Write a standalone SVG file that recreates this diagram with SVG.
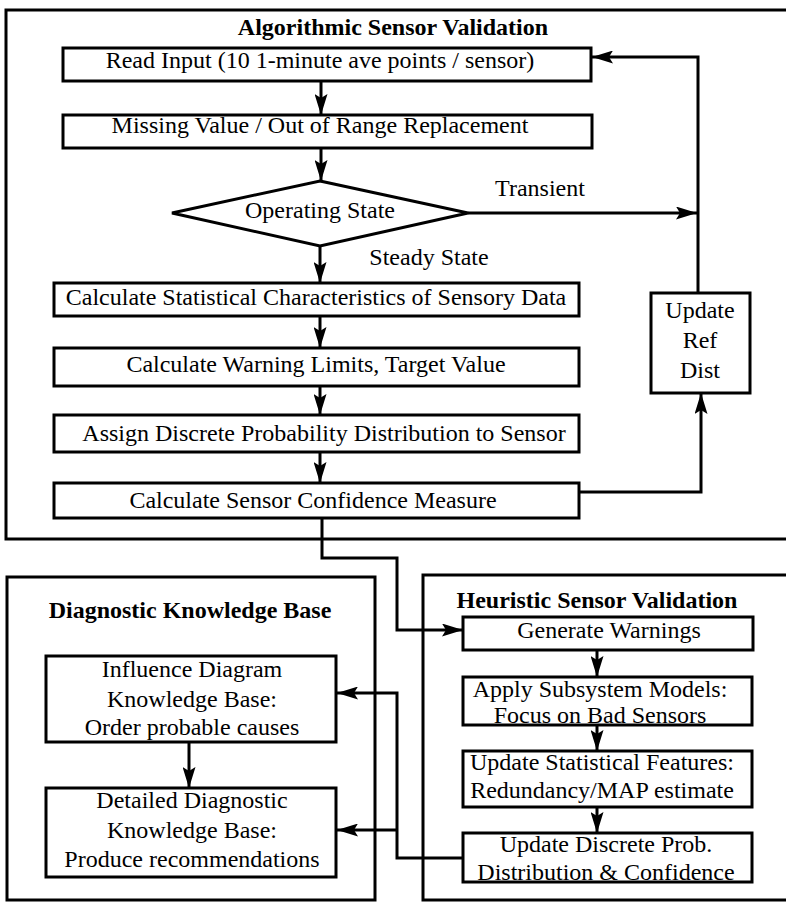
<svg xmlns="http://www.w3.org/2000/svg" width="786" height="903" viewBox="0 0 786 903">
<defs>
<marker id="ah" viewBox="0 0 21 13" refX="21" refY="6.5" markerWidth="21" markerHeight="13" markerUnits="userSpaceOnUse" orient="auto">
<path d="M0,0 L21,6.5 L0,13 L4,6.5 z" fill="#000"/>
</marker>
<style>
.box{fill:#fff;stroke:#000;stroke-width:3}
.cont{fill:none;stroke:#000;stroke-width:3}
.t{font-family:"Liberation Serif","Times New Roman",serif;font-size:24px;fill:#000;text-anchor:middle}
.b{font-weight:bold}
.ln{fill:none;stroke:#000;stroke-width:3}
.ar{marker-end:url(#ah)}
</style>
</defs>
<rect width="786" height="903" fill="#fff"/>

<g id="algorithmic-container">
<rect class="cont" x="6" y="10" width="800" height="529"/>
<text class="t b" x="393" y="35">Algorithmic Sensor Validation</text>
</g>
<g id="diagnostic-container">
<rect class="cont" x="7" y="577" width="368" height="323"/>
<text class="t b" x="190" y="618">Diagnostic Knowledge Base</text>
</g>
<g id="heuristic-container">
<rect class="cont" x="423" y="575" width="400" height="325"/>
<text class="t b" x="597" y="608">Heuristic Sensor Validation</text>
</g>

<g id="connectors">
<path class="ln ar" d="M321,81 L321,115"/>
<path class="ln ar" d="M321,148 L321,181"/>
<path class="ln ar" d="M468,213 L697,213"/>
<path class="ln ar" d="M698,293 L698,57 L592,57"/>
<path class="ln ar" d="M579,492 L701,492 L701,393"/>
<path class="ln ar" d="M320,247 L320,283"/>
<path class="ln ar" d="M320,316 L320,348"/>
<path class="ln ar" d="M320,386 L320,415"/>
<path class="ln ar" d="M320,452 L320,483"/>
<path class="ln ar" d="M322,518 L322,558 L397,558 L397,630 L463,630"/>
<path class="ln ar" d="M189,742 L189,788"/>
<path class="ln ar" d="M597,650 L597,677"/>
<path class="ln ar" d="M597,725 L597,751"/>
<path class="ln ar" d="M597,807 L597,833"/>
<path class="ln ar" d="M463,858 L397,858 L397,693 L337,693"/>
<path class="ln ar" d="M397,830 L337,830"/>
<text class="t" x="540" y="196">Transient</text>
<text class="t" x="429" y="265">Steady State</text>
</g>

<g id="read-input">
<rect class="box" x="63" y="48" width="528" height="33"/>
<text class="t" x="320" y="68">Read Input (10 1-minute ave points / sensor)</text>
</g>
<g id="missing-value">
<rect class="box" x="63" y="115" width="529" height="33"/>
<text class="t" x="320" y="133">Missing Value / Out of Range Replacement</text>
</g>
<g id="operating-state">
<polygon class="box" points="320,181 468,213 320,246 172,213"/>
<text class="t" x="320" y="218">Operating State</text>
</g>
<g id="calc-stat">
<rect class="box" x="54" y="283" width="525" height="33"/>
<text class="t" x="316" y="305">Calculate Statistical Characteristics of Sensory Data</text>
</g>
<g id="calc-warning">
<rect class="box" x="54" y="348" width="525" height="38"/>
<text class="t" x="316" y="372">Calculate Warning Limits, Target Value</text>
</g>
<g id="assign-discrete">
<rect class="box" x="54" y="415" width="525" height="37"/>
<text class="t" x="324" y="441">Assign Discrete Probability Distribution to Sensor</text>
</g>
<g id="calc-confidence">
<rect class="box" x="54" y="483" width="525" height="35"/>
<text class="t" x="313" y="508">Calculate Sensor Confidence Measure</text>
</g>
<g id="update-ref-dist">
<rect class="box" x="651" y="293" width="99" height="100"/>
<text class="t" x="700" y="318">Update</text>
<text class="t" x="700" y="348">Ref</text>
<text class="t" x="700" y="378">Dist</text>
</g>

<g id="influence-diagram">
<rect class="box" x="46" y="656" width="290" height="86"/>
<text class="t" x="192" y="677">Influence Diagram</text>
<text class="t" x="192" y="707">Knowledge Base:</text>
<text class="t" x="192" y="735">Order probable causes</text>
</g>
<g id="detailed-diagnostic">
<rect class="box" x="46" y="788" width="290" height="89"/>
<text class="t" x="192" y="808">Detailed Diagnostic</text>
<text class="t" x="192" y="838">Knowledge Base:</text>
<text class="t" x="192" y="867">Produce recommendations</text>
</g>

<g id="generate-warnings">
<rect class="box" x="463" y="617" width="290" height="33"/>
<text class="t" x="609" y="638">Generate Warnings</text>
</g>
<g id="apply-subsystem">
<rect class="box" x="463" y="677" width="289" height="48"/>
<text class="t" x="600" y="697">Apply Subsystem Models:</text>
<text class="t" x="600" y="723">Focus on Bad Sensors</text>
</g>
<g id="update-statistical">
<rect class="box" x="463" y="751" width="289" height="56"/>
<text class="t" x="602" y="770">Update Statistical Features:</text>
<text class="t" x="602" y="798">Redundancy/MAP estimate</text>
</g>
<g id="update-discrete">
<rect class="box" x="463" y="833" width="289" height="49"/>
<text class="t" x="606" y="852">Update Discrete Prob.</text>
<text class="t" x="606" y="880">Distribution &amp; Confidence</text>
</g>
</svg>
